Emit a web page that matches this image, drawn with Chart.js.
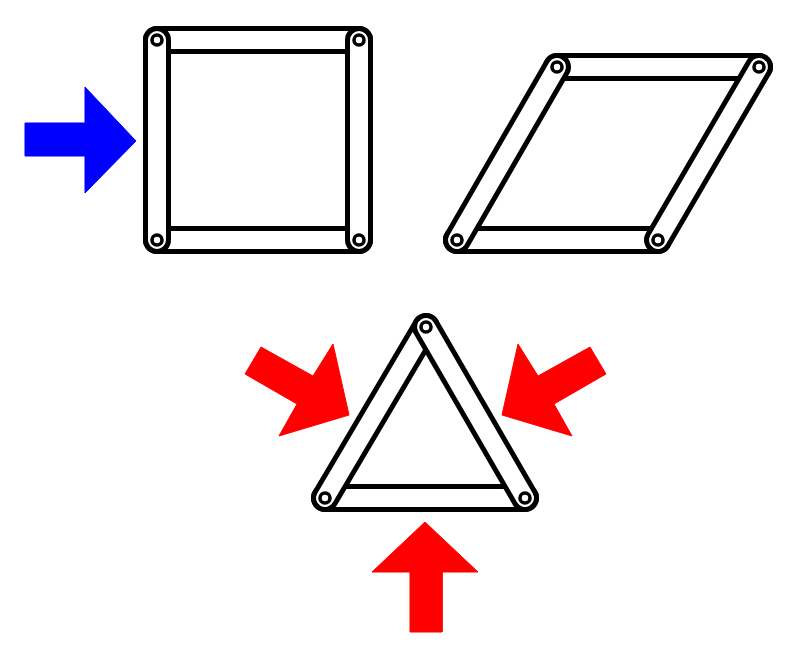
<!DOCTYPE html>
<html>
<head>
<meta charset="utf-8">
<script src="https://cdn.jsdelivr.net/npm/chart.js@4"></script>
<style>
  html, body { margin: 0; padding: 0; background: #fff; }
  #wrap { width: 800px; height: 656px; }
</style>
</head>
<body>
<div id="wrap"><canvas id="linkage"></canvas></div>
<script>
// pin positions (pixel units, y down)
const squarePins = [[157, 40], [359, 40], [157, 240], [359, 240]];
const rhombusPins = [[557, 67], [759, 67], [457, 240], [658, 240]];
const trianglePins = [[426, 327], [325, 498], [525, 498]];

// bars as pin index pairs, in drawing order (later = on top)
const squareBars = [[0, 1], [2, 3], [0, 2], [1, 3]];
const rhombusBars = [[0, 1], [2, 3], [0, 2], [1, 3]];
const triangleBars = [[1, 2], [0, 1], [0, 2]];

// arrow outlines
const blueArrow = [[25, 123], [85, 123], [85, 87], [136, 141], [85, 193], [85, 156], [25, 156]];
const redArrowLeft = [[261, 347], [313, 376], [333, 344], [349, 415], [279, 436], [297, 404], [245, 374]];
const redArrowRight = [[590, 347], [538, 376], [518, 344], [502, 415], [572, 436], [554, 404], [606, 374]];
const redArrowBottom = [[425, 522], [478, 572], [442, 572], [442, 632], [410, 632], [410, 572], [372, 572]];

const toPts = arr => arr.map(p => ({ x: p[0], y: p[1] }));

const drawList = [];

function addArrow(shape, color) {
  const pts = toPts(shape);
  pts.push(pts[0]);
  drawList.push({
    data: pts,
    showLine: true,
    borderColor: color,
    backgroundColor: color,
    borderWidth: 1,
    fill: "shape",
    pointRadius: 0
  });
}

function addBars(pins, bars) {
  bars.forEach(function (b) {
    const pts = [pins[b[0]], pins[b[1]]];
    drawList.push({
      data: toPts(pts), showLine: true, borderColor: "#000", borderWidth: 28,
      borderCapStyle: "round", pointRadius: 0, fill: false
    });
    drawList.push({
      data: toPts(pts), showLine: true, borderColor: "#fff", borderWidth: 18,
      borderCapStyle: "round", pointRadius: 0, fill: false
    });
  });
}

addArrow(blueArrow, "#0000ff");
addArrow(redArrowLeft, "#ff0000");
addArrow(redArrowRight, "#ff0000");
addArrow(redArrowBottom, "#ff0000");
addBars(squarePins, squareBars);
addBars(rhombusPins, rhombusBars);
addBars(trianglePins, triangleBars);

drawList.push({
  data: toPts(squarePins.concat(rhombusPins, trianglePins)),
  showLine: false,
  pointRadius: 5,
  pointBackgroundColor: "#fff",
  pointBorderColor: "#000",
  pointBorderWidth: 3.6
});

drawList.forEach(function (d, i) {
  d.order = -i;
  d.clip = false;
});

new Chart(document.getElementById("linkage"), {
  type: "scatter",
  data: { datasets: drawList },
  options: {
    responsive: true,
    maintainAspectRatio: false,
    animation: false,
    layout: { padding: 0, autoPadding: false },
    plugins: { legend: { display: false }, tooltip: { enabled: false } },
    scales: {
      x: { type: "linear", min: 0, max: 800, display: false },
      y: { type: "linear", min: 0, max: 656, reverse: true, display: false }
    }
  }
});
</script>
</body>
</html>
